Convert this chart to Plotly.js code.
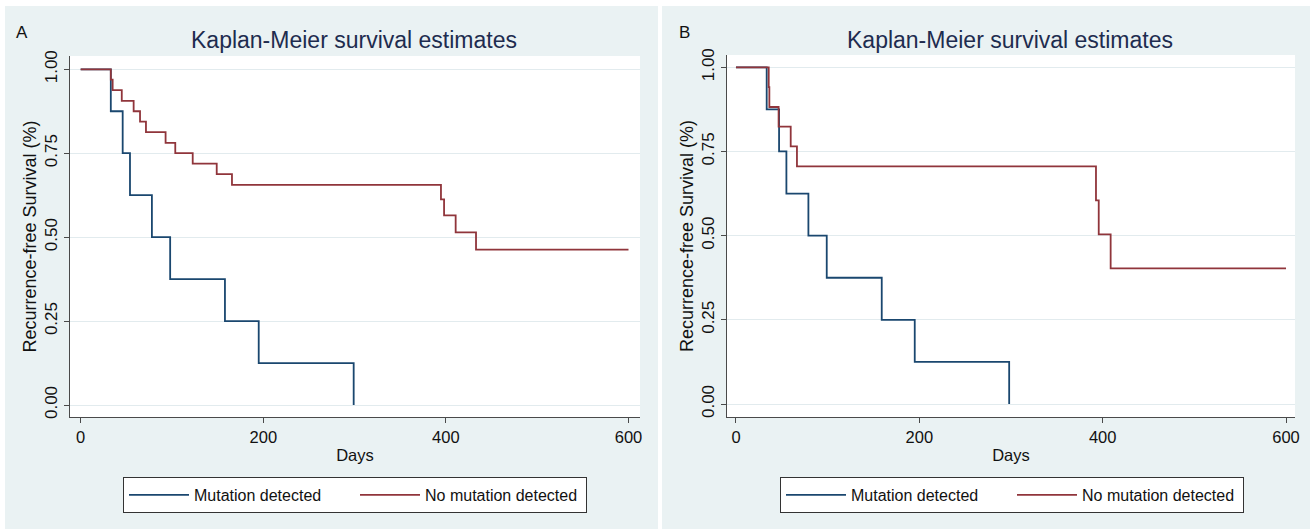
<!DOCTYPE html>
<html>
<head>
<meta charset="utf-8">
<script src="https://cdn.plot.ly/plotly-3.0.1.min.js"></script>
<style>html,body{margin:0;padding:0;background:#fff;}#chart{width:1310px;height:529px;}</style>
</head>
<body>
<div id="chart"></div>
<script>
// ---- Data ----
const seriesNames = ["Mutation detected", "No mutation detected"];
const xTicks = [0, 200, 400, 600];
const yTicks = [0, 0.25, 0.5, 0.75, 1];
const yTickLabels = ["0.00", "0.25", "0.50", "0.75", "1.00"];

// Panel A
const daysA_mut = [0, 33, 46, 54, 78, 98, 158, 195, 299];
const survA_mut = [1, 0.875, 0.75, 0.625, 0.5, 0.375, 0.25, 0.125, 0];
const daysA_nomut = [0, 33, 35, 45, 58, 65, 71.5, 93, 103.6, 122.7, 149, 165.7, 394.6, 398, 410.7, 433, 600];
const survA_nomut = [1, 0.969, 0.938, 0.906, 0.875, 0.844, 0.813, 0.781, 0.75, 0.719, 0.688, 0.656, 0.6125, 0.565, 0.514, 0.463, 0.463];

// Panel B
const daysB_mut = [0, 33.5, 47, 55, 79, 99, 159, 195, 298];
const survB_mut = [1, 0.875, 0.75, 0.625, 0.5, 0.375, 0.25, 0.125, 0];
const daysB_nomut = [0, 35.7, 36.4, 46.5, 59.7, 66.5, 392.7, 395.7, 408.7, 600];
const survB_nomut = [1, 0.941, 0.882, 0.824, 0.765, 0.706, 0.605, 0.504, 0.403, 0.403];

// ---- Styles ----
const W = 1310, H = 529;
const BLUE = "#1a476f", RED = "#90353b";
const PANEL = "#eaf2f3", GRID = "#e2ebee", AXIS = "#4a4a4a";
const FONT = "Liberation Sans, Arial, sans-serif";
const px = v => v / W, py = v => (H - v) / H;

function trace(x, y, name, color, xa, ya, lg) {
  return {x: x, y: y, name: name, type: "scatter", mode: "lines",
    line: {shape: "hv", color: color, width: 1.8},
    xaxis: xa, yaxis: ya, legend: lg, hoverinfo: "x+y+name"};
}

const data = [
  trace(daysA_mut, survA_mut, seriesNames[0], BLUE, "x", "y", "legend"),
  trace(daysA_nomut, survA_nomut, seriesNames[1], RED, "x", "y", "legend"),
  trace(daysB_mut, survB_mut, seriesNames[0], BLUE, "x2", "y2", "legend2"),
  trace(daysB_nomut, survB_nomut, seriesNames[1], RED, "x2", "y2", "legend2")
];

function xAxis(domain, range, anchor) {
  return {domain: domain, range: range, anchor: anchor, tickvals: xTicks,
    ticks: "outside", ticklen: 5, tickcolor: AXIS, showline: true, linecolor: AXIS, linewidth: 1,
    showgrid: false, zeroline: false, tickfont: {family: FONT, size: 16.5, color: "#111"},
    title: {text: "Days", font: {family: FONT, size: 16.5, color: "#111"}, standoff: 4}};
}
function yAxis(domain, range, anchor) {
  return {domain: domain, range: range, anchor: anchor, tickvals: yTicks, ticktext: yTickLabels,
    tickangle: -90, ticks: "outside", ticklen: 5, tickcolor: AXIS, showline: true, linecolor: AXIS, linewidth: 1,
    showgrid: true, gridcolor: GRID, gridwidth: 1, zeroline: false,
    tickfont: {family: FONT, size: 17, color: "#111"},
    title: {text: "Recurrence-free Survival (%)", font: {family: FONT, size: 18, color: "#111"}, standoff: 0}};
}
function legend(cx) {
  return {orientation: "h", x: px(cx), xanchor: "center", y: py(477), yanchor: "top",
    bgcolor: "#ffffff", bordercolor: "#333", borderwidth: 1, itemwidth: 60, entrywidth: 156,
    font: {family: FONT, size: 16, color: "#111"}, itemclick: false, itemdoubleclick: false};
}

const layout = {
  width: W, height: H, margin: {l: 0, r: 0, t: 0, b: 0},
  paper_bgcolor: PANEL, plot_bgcolor: "#ffffff", showlegend: true,
  xaxis: xAxis([px(70), px(640)], [-11.7, 612.6], "y"),
  yaxis: yAxis([py(417), py(56)], [-0.0357, 1.0396], "x"),
  xaxis2: xAxis([px(727), px(1295)], [-9.8, 609.8], "y2"),
  yaxis2: yAxis([py(417), py(55)], [-0.0386, 1.0365], "x2"),
  legend: legend(355),
  legend2: legend(1012),
  shapes: [
    {type: "rect", xref: "paper", yref: "paper", x0: 0, x1: 1, y0: py(6), y1: 1, fillcolor: "#fff", line: {width: 0}},
    {type: "rect", xref: "paper", yref: "paper", x0: 0, x1: px(5), y0: 0, y1: 1, fillcolor: "#fff", line: {width: 0}},
    {type: "rect", xref: "paper", yref: "paper", x0: px(658), x1: px(662), y0: 0, y1: 1, fillcolor: "#fff", line: {width: 0}}
  ],
  annotations: [
    {text: "Kaplan-Meier survival estimates", xref: "paper", yref: "paper", x: px(354), y: py(40),
      xanchor: "center", yanchor: "middle", showarrow: false, font: {family: FONT, size: 23, color: "#1e2c4f"}},
    {text: "Kaplan-Meier survival estimates", xref: "paper", yref: "paper", x: px(1010), y: py(40),
      xanchor: "center", yanchor: "middle", showarrow: false, font: {family: FONT, size: 23, color: "#1e2c4f"}},
    {text: "A", xref: "paper", yref: "paper", x: px(22), y: py(32), xanchor: "center", yanchor: "middle",
      showarrow: false, font: {family: FONT, size: 17, color: "#111"}},
    {text: "B", xref: "paper", yref: "paper", x: px(684), y: py(32), xanchor: "center", yanchor: "middle",
      showarrow: false, font: {family: FONT, size: 17, color: "#111"}}
  ]
};

Plotly.newPlot("chart", data, layout, {displayModeBar: false, staticPlot: true});
</script>
</body>
</html>
